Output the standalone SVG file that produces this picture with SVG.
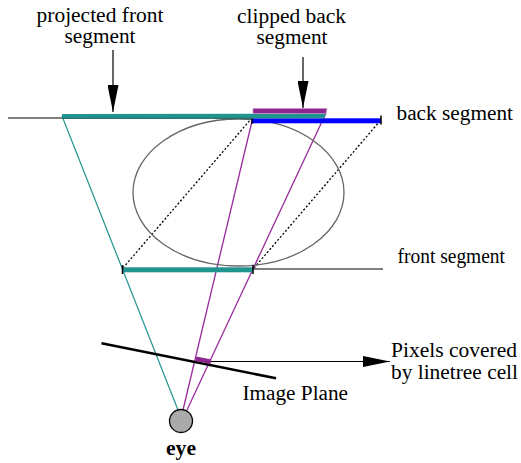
<svg xmlns="http://www.w3.org/2000/svg" width="521" height="463" viewBox="0 0 521 463">
<defs>
<marker id="ah" viewBox="0 0 27 11" refX="27" refY="5.5" markerWidth="27" markerHeight="11" markerUnits="userSpaceOnUse" orient="auto">
<path d="M0,0 L27,5.5 L0,11 Z" fill="#000"/>
</marker>
<style>
text{font-family:"Liberation Serif","Times New Roman",serif;font-size:20px;fill:#000}
.thin{stroke:#000;stroke-width:1.2;fill:none}
.teal{stroke:#22948f;stroke-width:1.2;fill:none}
.purp{stroke:#9a2a9c;stroke-width:1.3;fill:none}
.dot{stroke:#000;stroke-width:1.3;stroke-dasharray:2,2;fill:none}
.tick{stroke:#000;stroke-width:1.5}
</style>
</defs>
<g id="connectors">
<line class="thin" x1="8" y1="118" x2="62" y2="118"/>
<line x1="253" y1="269" x2="383" y2="269" stroke="#555" stroke-width="1.5"/>
<line class="dot" x1="123" y1="268" x2="251" y2="119"/>
<line class="dot" x1="254" y1="268" x2="380" y2="121"/>
<line class="teal" x1="178" y1="410" x2="62" y2="116"/>
<line class="purp" x1="183" y1="410" x2="253" y2="117"/>
<line class="purp" x1="187" y1="410" x2="326" y2="113"/>
<line x1="113" y1="50" x2="113" y2="112" class="thin" marker-end="url(#ah)"/>
<line x1="303" y1="57" x2="303" y2="108" class="thin" marker-end="url(#ah)"/>
<line x1="211" y1="361.5" x2="390" y2="361.5" class="thin" marker-end="url(#ah)"/>
</g>
<g id="ellipse">
<ellipse cx="238.5" cy="192.5" rx="105.5" ry="73.5" fill="none" stroke="#666" stroke-width="1.3"/>
</g>
<g id="back-segment">
<rect x="252" y="118.3" width="129" height="5" fill="#0000ff"/>
<line class="tick" x1="381" y1="115.5" x2="381" y2="124.5"/>
<line class="tick" x1="252" y1="116" x2="252" y2="124"/>
<polygon points="62,114 326,113.5 324,118.3 62,118.6" fill="#22948f"/>
<line x1="62" y1="118.3" x2="252" y2="118.3" stroke="#17625f" stroke-width="1"/>
<polygon points="253,108.5 327,108.5 326,113.5 253,113.5" fill="#8e2490" stroke="#c59ac8" stroke-width="0.6"/>
<text x="396.5" y="120" textLength="116.5" lengthAdjust="spacingAndGlyphs">back segment</text>
</g>
<g id="front-segment">
<rect x="122.5" y="267.3" width="130.5" height="5" fill="#22948f"/>
<line class="tick" x1="122.5" y1="265" x2="122.5" y2="274"/>
<line class="tick" x1="253" y1="265" x2="253" y2="274"/>
<text x="397.5" y="263" textLength="107.5" lengthAdjust="spacingAndGlyphs">front segment</text>
</g>
<g id="image-plane">
<line x1="101.5" y1="343.3" x2="276" y2="378.3" stroke="#000" stroke-width="2.6"/>
<line x1="196" y1="358.8" x2="211" y2="361.8" stroke="#8e2490" stroke-width="4.5"/>
<text x="242.5" y="400" textLength="105.5" lengthAdjust="spacingAndGlyphs">Image Plane</text>
</g>
<g id="eye">
<circle cx="181" cy="421" r="11.5" fill="#aaa" stroke="#000" stroke-width="1.3"/>
<text x="166" y="455" font-weight="bold" textLength="30" lengthAdjust="spacingAndGlyphs">eye</text>
</g>
<g id="label-projected">
<text x="36.5" y="22" textLength="127" lengthAdjust="spacingAndGlyphs">projected front</text>
<text x="64.5" y="43" textLength="71" lengthAdjust="spacingAndGlyphs">segment</text>
</g>
<g id="label-clipped">
<text x="237" y="23" textLength="109" lengthAdjust="spacingAndGlyphs">clipped back</text>
<text x="256.5" y="44" textLength="71" lengthAdjust="spacingAndGlyphs">segment</text>
</g>
<g id="label-pixels">
<text x="391" y="357" textLength="126" lengthAdjust="spacingAndGlyphs">Pixels covered</text>
<text x="391" y="379" textLength="127" lengthAdjust="spacingAndGlyphs">by linetree cell</text>
</g>
</svg>
